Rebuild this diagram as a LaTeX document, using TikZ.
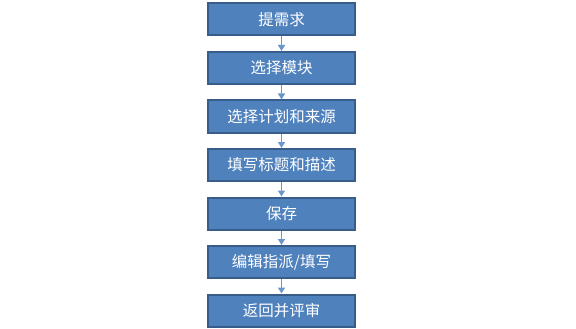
\documentclass[tikz,border=0pt]{standalone}
\usepackage{fontspec}
\newfontfamily\cjk{Noto Sans CJK SC}
\usetikzlibrary{arrows.meta}
\definecolor{boxfill}{HTML}{4F81BD}
\definecolor{boxline}{HTML}{385D8A}
\definecolor{arrowc}{HTML}{6A96CC}
\tikzset{
  stepbox/.style={draw=boxline, line width=2pt, fill=boxfill, minimum width=147pt, minimum height=32pt, inner sep=0pt, text=white, font=\cjk\fontsize{15.5}{17}\selectfont},
  link/.style={draw=arrowc, line width=1.5pt, -{Triangle[length=6pt,width=7pt]}}
}
\begin{document}
\begin{tikzpicture}[x=1pt,y=1pt]
\useasboundingbox (0,0) rectangle (576,-329);
\node[stepbox] (n1) at (281.5,-19.5) {提需求};
\node[stepbox] (n2) at (281.5,-68) {选择模块};
\node[stepbox] (n3) at (281.5,-116.5) {选择计划和来源};
\node[stepbox] (n4) at (281.5,-165) {填写标题和描述};
\node[stepbox] (n5) at (281.5,-213.5) {保存};
\node[stepbox] (n6) at (281.5,-262) {编辑指派/填写};
\node[stepbox] (n7) at (281.5,-310.5) {返回并评审};
\foreach \a/\b in {n1/n2,n2/n3,n3/n4,n4/n5,n5/n6,n6/n7}
  \draw[link] (\a) -- (\b);
\end{tikzpicture}
\end{document}
